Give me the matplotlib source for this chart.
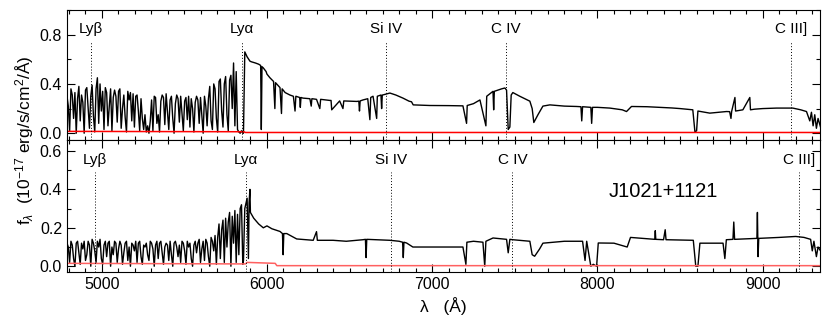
import matplotlib
matplotlib.use("Agg")
import matplotlib.pyplot as plt
import numpy as np
from matplotlib.ticker import MultipleLocator

plt.rcParams["font.family"] = ["Liberation Sans", "DejaVu Sans"]
plt.rcParams["mathtext.fontset"] = "custom"
plt.rcParams["mathtext.rm"] = "Liberation Sans"
plt.rcParams["mathtext.it"] = "Liberation Sans:italic"

# --- emission line markers (observed wavelengths, Angstrom)
line_names = ["Ly\u03b2", "Ly\u03b1", "Si IV", "C IV", "C III]"]
line_wave_top = [4933, 5847, 6718, 7448, 9171]
line_wave_bot = [4960, 5873, 6749, 7485, 9220]

# --- Lyman forest part, sampled every 8 A from 4790 A
forest_start = 4790
forest_step = 8
forest_top = [
    0.30, 0.22, 0.02, 0.36, 0.31, 0.12, 0.33, 0.00, 0.28, 0.38,
    0.10, 0.31, 0.25, 0.00, 0.35, 0.37, 0.20, 0.04, 0.30, 0.39,
    0.14, 0.01, 0.36, 0.45, 0.08, 0.40, 0.18, 0.34, 0.03, 0.37,
    0.33, 0.06, 0.22, 0.36, 0.02, 0.29, 0.35, 0.30, 0.09, 0.34,
    0.36, 0.04, 0.20, 0.31, 0.13, 0.01, 0.34, 0.27, 0.33, 0.10,
    0.32, 0.05, 0.30, 0.31, 0.18, 0.02, 0.28, 0.12, 0.03, 0.15,
    0.01, 0.06, 0.00, 0.10, 0.27, 0.02, 0.30, 0.29, 0.08, 0.15,
    0.01, 0.26, 0.31, 0.29, 0.07, 0.32, 0.18, 0.03, 0.27, 0.30,
    0.12, 0.00, 0.24, 0.31, 0.28, 0.09, 0.30, 0.16, 0.02, 0.26,
    0.29, 0.11, 0.30, 0.05, 0.28, 0.20, 0.01, 0.25, 0.30, 0.27,
    0.08, 0.29, 0.14, 0.00, 0.30, 0.22, 0.06, 0.28, 0.38, 0.10,
    0.03, 0.40, 0.36, 0.12, 0.01, 0.42, 0.44, 0.18, 0.05, 0.40,
    0.46, 0.15, 0.02, 0.43, 0.47, 0.20, 0.57, 0.06, 0.50, 0.03,
    0.01, 0.00, 0.02, 0.00,
]
forest_bot = [
    0.12, 0.10, 0.02, 0.13, 0.11, 0.04, 0.00, 0.12, 0.13, 0.07,
    0.01, 0.12, 0.09, 0.13, 0.03, 0.06, 0.13, 0.11, 0.00, 0.14,
    0.12, 0.08, 0.02, 0.13, 0.10, 0.14, 0.04, 0.01, 0.11, 0.13,
    0.05, 0.12, 0.13, 0.00, 0.10, 0.06, 0.13, 0.12, 0.02, 0.09,
    0.13, 0.11, 0.01, 0.07, 0.12, 0.13, 0.03, 0.10, 0.00, 0.12,
    0.11, 0.08, 0.13, 0.02, 0.12, 0.13, 0.05, 0.01, 0.11, 0.10,
    0.12, 0.06, 0.03, 0.13, 0.12, 0.09, 0.00, 0.11, 0.13, 0.04,
    0.12, 0.13, 0.07, 0.01, 0.10, 0.12, 0.11, 0.03, 0.13, 0.06,
    0.00, 0.12, 0.13, 0.10, 0.05, 0.11, 0.02, 0.13, 0.12, 0.08,
    0.01, 0.13, 0.10, 0.12, 0.04, 0.00, 0.11, 0.13, 0.07, 0.12,
    0.14, 0.02, 0.09, 0.13, 0.03, 0.14, 0.12, 0.05, 0.00, 0.15,
    0.13, 0.08, 0.16, 0.01, 0.15, 0.22, 0.04, 0.19, 0.24, 0.02,
    0.25, 0.10, 0.23, 0.28, 0.00, 0.26, 0.12, 0.29, 0.02, 0.27,
    0.06, 0.30, 0.32, 0.01,
]

# --- redward of Ly-alpha: continuum with absorption features
cont_wave_top = [
    5858, 5866, 5880, 5897, 5905, 5930, 5950, 5962, 5966, 5970, 5978, 5995,
    6000, 6018, 6040, 6048, 6052, 6079, 6088, 6092, 6110, 6139, 6160, 6170,
    6175, 6198, 6202, 6206, 6218, 6260, 6268, 6272, 6300, 6320, 6325, 6381,
    6388, 6392, 6440, 6460, 6465, 6500, 6543, 6556, 6560, 6564,
    6581, 6610, 6623, 6628, 6642, 6664, 6668, 6690, 6694, 6698, 6700, 6744,
    6780, 6823, 6860,
    6875, 6885, 6986, 7100, 7186, 7208, 7212, 7250, 7289, 7325, 7330, 7368,
    7372, 7376, 7420, 7440, 7450, 7460, 7470, 7478, 7488, 7530, 7591, 7605,
    7615, 7640, 7670, 7712, 7800, 7874, 7900, 7905, 7910, 7960, 7965, 7970,
    8000, 8075, 8150, 8176, 8206, 8300, 8378, 8450, 8500, 8577, 8590, 8600,
    8608, 8680, 8781, 8800, 8808, 8812, 8832, 8836, 8880, 8922, 8926, 8950,
    9000, 9084, 9182, 9230, 9265, 9285, 9295, 9305, 9315, 9325, 9335, 9350,
]
cont_flux_top = [
    0.00, 0.66, 0.62, 0.585, 0.58, 0.57, 0.56, 0.55, 0.03, 0.54, 0.53, 0.50,
    0.48, 0.45, 0.42, 0.20, 0.41, 0.37, 0.16, 0.36, 0.33, 0.31, 0.30, 0.18,
    0.30, 0.29, 0.21, 0.29, 0.285, 0.28, 0.22, 0.28, 0.275, 0.20, 0.275, 0.266,
    0.266, 0.19, 0.262, 0.20, 0.262, 0.26, 0.258, 0.26, 0.18, 0.262,
    0.27, 0.28, 0.11, 0.29, 0.30, 0.12, 0.30, 0.31, 0.20, 0.31, 0.31, 0.326,
    0.31, 0.285, 0.26,
    0.255, 0.23, 0.225, 0.224, 0.222, 0.08, 0.225, 0.24, 0.27, 0.06, 0.30, 0.34,
    0.19, 0.34, 0.36, 0.367, 0.35, 0.03, 0.05, 0.31, 0.33, 0.30, 0.26, 0.20,
    0.087, 0.15, 0.22, 0.23, 0.22, 0.217, 0.215, 0.10, 0.215, 0.21, 0.08, 0.21,
    0.21, 0.204, 0.19, 0.176, 0.217, 0.215, 0.21, 0.205, 0.20, 0.19, 0.01, 0.02,
    0.18, 0.163, 0.176, 0.175, 0.12, 0.176, 0.29, 0.18, 0.19, 0.29, 0.19, 0.195,
    0.20, 0.204, 0.204, 0.19, 0.176, 0.10, 0.17, 0.06, 0.15, 0.04, 0.12, 0.05,
]
cont_wave_bot = [
    5858, 5866, 5880, 5888, 5892, 5897, 5900, 5920, 5950, 5978, 6000, 6030,
    6079, 6094, 6098, 6102, 6120, 6180, 6280, 6300, 6305, 6400, 6480, 6581,
    6596, 6600, 6604, 6744, 6800, 6821, 6825, 6829, 6845, 6883, 6930, 7087,
    7186, 7204, 7210, 7250, 7307, 7318, 7325, 7368, 7450, 7460, 7470, 7488,
    7591, 7605, 7620, 7650, 7670, 7800, 7910, 7925, 7935, 7960, 7975, 7995,
    8005, 8100, 8180, 8200, 8347, 8350, 8353, 8400, 8410, 8415, 8580, 8595,
    8608, 8620, 8760, 8771, 8780, 8820, 8825, 8830, 8965, 8968, 8972, 8976,
    9100, 9200, 9250, 9290, 9300, 9310, 9325, 9335, 9350,
]
cont_flux_bot = [
    0.03, 0.30, 0.354, 0.04, 0.33, 0.40, 0.28, 0.25, 0.22, 0.20, 0.21, 0.195,
    0.181, 0.17, 0.06, 0.17, 0.17, 0.142, 0.135, 0.18, 0.135, 0.135, 0.13, 0.138,
    0.14, 0.045, 0.14, 0.135, 0.13, 0.125, 0.045, 0.125, 0.121, 0.10, 0.10, 0.10,
    0.10, 0.01, 0.125, 0.13, 0.125, 0.00, 0.13, 0.147, 0.14, 0.07, 0.14, 0.138,
    0.13, 0.06, 0.052, 0.09, 0.12, 0.13, 0.13, 0.03, 0.13, 0.00, 0.01, 0.00,
    0.121, 0.12, 0.10, 0.15, 0.14, 0.185, 0.14, 0.138, 0.19, 0.138, 0.135, 0.00,
    0.00, 0.12, 0.12, 0.04, 0.138, 0.14, 0.23, 0.14, 0.145, 0.28, 0.05, 0.145,
    0.15, 0.155, 0.15, 0.14, 0.08, 0.13, 0.05, 0.10, 0.08,
]

# --- error spectra
err_wave_top = [4790, 5860, 5870, 9350]
err_flux_top = [0.015, 0.012, 0.006, 0.006]
err_wave_bot = [4790, 5870, 5880, 6050, 6060, 9350]
err_flux_bot = [0.015, 0.012, 0.02, 0.015, 0.003, 0.003]

# --- axes ranges
xlim = (4790, 9347)
ylim_top = (-0.055, 1.0)
ylim_bot = (-0.03, 0.657)

fig = plt.figure(figsize=(8.3, 3.2), dpi=100)
ax_top = fig.add_axes([0.0807, 0.5625, 0.9073, 0.4063])
ax_bot = fig.add_axes([0.0807, 0.15, 0.9073, 0.4125])


def draw_panel(ax, forest, cont_w, cont_f, err_w, err_f, err_color,
               line_waves, ylim, label_y, line_top):
    fw = forest_start + forest_step * np.arange(len(forest))
    wave = np.concatenate([fw, cont_w])
    flux = np.concatenate([forest, cont_f])
    ax.plot(wave, flux, color="black", lw=1.0)
    ax.plot(err_w, err_f, color=err_color, lw=1.1)
    for name, w in zip(line_names, line_waves):
        ax.plot([w, w], [ylim[0], line_top], color="black", lw=0.7,
                linestyle=(0, (1, 2)))
        ax.text(w, label_y, name, ha="center", va="center", fontsize=11)
    ax.set_xlim(*xlim)
    ax.set_ylim(*ylim)
    ax.xaxis.set_major_locator(MultipleLocator(1000))
    ax.xaxis.set_minor_locator(MultipleLocator(100))
    ax.tick_params(which="both", direction="in", top=True, right=True,
                   labelsize=11.5, width=0.8)
    ax.tick_params(which="major", length=6)
    ax.tick_params(which="minor", length=3)
    for sp in ax.spines.values():
        sp.set_linewidth(0.8)


draw_panel(ax_top, forest_top, cont_wave_top, cont_flux_top,
           err_wave_top, err_flux_top, "red", line_wave_top,
           ylim_top, 0.843, 0.75)
draw_panel(ax_bot, forest_bot, cont_wave_bot, cont_flux_bot,
           err_wave_bot, err_flux_bot, "#ff6060", line_wave_bot,
           ylim_bot, 0.553, 0.493)

ax_top.yaxis.set_major_locator(MultipleLocator(0.4))
ax_top.yaxis.set_minor_locator(MultipleLocator(0.2))
ax_top.tick_params(labelbottom=False)
ax_bot.yaxis.set_major_locator(MultipleLocator(0.2))
ax_bot.yaxis.set_minor_locator(MultipleLocator(0.1))

ax_bot.text(8400, 0.39, "J1021+1121", fontsize=14.5, ha="center", va="center")

fig.text(0.030, 0.56, "f$_\\lambda$  (10$^{-17}$ erg/s/cm$^2$/\u00c5)",
         rotation=90, ha="center", va="center", fontsize=12.5)
fig.text(0.534, 0.045, "\u03bb   (\u00c5)", ha="center", va="center",
         fontsize=12.5)

fig.savefig("out.png", dpi=100)
